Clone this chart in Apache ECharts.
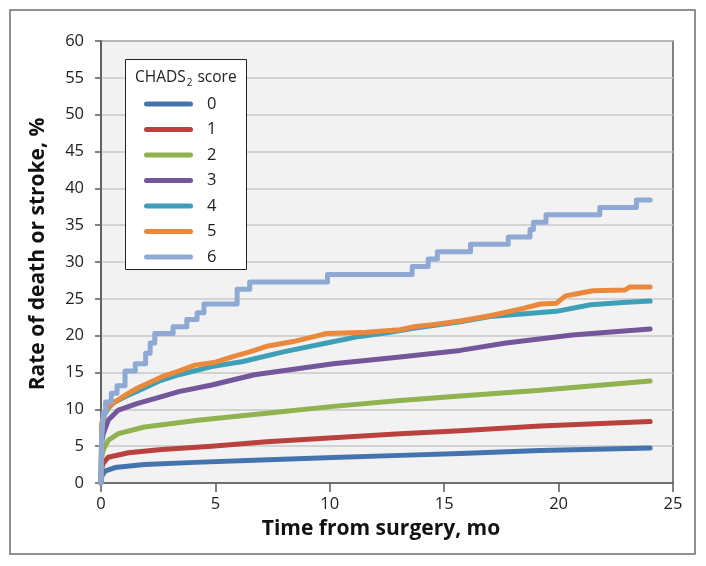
<!DOCTYPE html>
<html>
<head>
<meta charset="utf-8">
<script src="https://cdn.jsdelivr.net/npm/echarts@6/dist/echarts.min.js"></script>
<style>
  html, body { margin: 0; padding: 0; background: #fff; }
  #main { width: 706px; height: 566px; }
</style>
</head>
<body>
<div id="main"></div>
<script>
// [time in months, rate %]
var score0 = [[0, 0], [0.03, 0.9], [0.17, 1.6], [0.61, 2.1], [1.9, 2.5], [4.1, 2.8], [6.7, 3.1], [10.15, 3.45], [13.07, 3.75], [15.7, 4.0], [19.2, 4.4], [24.0, 4.75]];
var score1 = [[0, 0], [0.03, 2.0], [0.1, 2.7], [0.32, 3.5], [1.2, 4.1], [2.65, 4.55], [4.84, 5.0], [7.24, 5.6], [10.15, 6.15], [13.07, 6.7], [15.7, 7.1], [19.2, 7.74], [24.0, 8.35]];
var score2 = [[0, 0], [0.03, 3.5], [0.1, 4.5], [0.32, 5.8], [0.76, 6.7], [1.9, 7.6], [4.33, 8.55], [7.24, 9.46], [10.15, 10.4], [13.07, 11.2], [15.7, 11.8], [19.2, 12.6], [24.0, 13.85]];
var score3 = [[0, 0], [0.03, 5.5], [0.1, 6.7], [0.32, 8.55], [0.76, 9.9], [1.6, 10.8], [2.5, 11.6], [3.4, 12.4], [4.84, 13.3], [6.7, 14.7], [10.15, 16.2], [13.07, 17.1], [15.7, 18.0], [17.7, 19.0], [20.6, 20.1], [24.0, 20.9]];
var score4 = [[0, 0], [0.03, 7.5], [0.15, 9.3], [0.32, 10.2], [0.6, 11.0], [1.05, 11.7], [1.9, 12.9], [2.6, 13.9], [3.4, 14.7], [4.84, 15.8], [6.2, 16.5], [7.97, 17.8], [9.86, 19.0], [11.3, 19.9], [12.5, 20.4], [13.65, 21.0], [15.7, 21.9], [17.0, 22.6], [19.9, 23.3], [21.4, 24.2], [22.8, 24.5], [24.0, 24.7]];
var score5 = [[0, 0], [0.03, 8.1], [0.15, 9.5], [0.32, 10.4], [0.76, 11.3], [1.1, 12.0], [1.6, 12.9], [2.1, 13.6], [2.65, 14.4], [3.4, 15.2], [4.1, 16.0], [5.0, 16.4], [5.8, 17.2], [6.5, 17.8], [7.3, 18.6], [8.4, 19.2], [9.35, 19.9], [9.86, 20.3], [11.6, 20.45], [13.07, 20.8], [13.65, 21.2], [14.5, 21.5], [15.7, 22.0], [17.0, 22.7], [18.46, 23.7], [19.2, 24.3], [19.9, 24.4], [20.3, 25.4], [20.8, 25.7], [21.5, 26.1], [22.9, 26.2], [23.1, 26.6], [24.0, 26.6]];
var score6 = [[0, 0], [0.03, 6.0], [0.1, 9.5], [0.2, 11.0], [0.45, 12.2], [0.7, 13.2], [1.05, 15.2], [1.5, 16.2], [1.95, 17.6], [2.15, 19.0], [2.35, 20.3], [3.15, 21.2], [3.75, 22.2], [4.2, 23.1], [4.5, 24.3], [5.95, 26.3], [6.5, 27.3], [9.9, 28.3], [13.6, 29.4], [14.3, 30.4], [14.7, 31.4], [16.15, 32.4], [17.8, 33.4], [18.75, 34.4], [18.9, 35.4], [19.45, 36.4], [21.8, 37.4], [23.4, 38.4], [24.0, 38.4]];

var scoreNames = ['0', '1', '2', '3', '4', '5', '6'];
var scoreData = [score0, score1, score2, score3, score4, score5, score6];
var colors = ['#4473ae', '#b9423f', '#90b24f', '#74569b', '#3f9fb7', '#ea893c', '#8eaad4'];

var font = '"Open Sans", "Noto Sans", sans-serif';
var axisColor = '#595959';

var chart = echarts.init(document.getElementById('main'), null, { renderer: 'canvas' });

var series = scoreData.map(function (d, i) {
  return {
    name: scoreNames[i],
    type: 'line',
    data: d,
    step: i === 6 ? 'end' : false,
    showSymbol: false,
    symbol: 'none',
    lineStyle: { width: 5, color: colors[i], cap: 'round', join: 'round' },
    itemStyle: { color: colors[i] },
    emphasis: { disabled: true },
    animation: false
  };
});

var option = {
  animation: false,
  color: colors,
  title: {
    text: '{a|CHADS}{sub|2}{a| score}',
    left: 135,
    top: 68,
    padding: 0,
    z: 10,
    textStyle: {
      fontWeight: 'normal',
      rich: {
        a: { fontFamily: font, fontSize: 15.5, fontWeight: 'normal', color: '#222', lineHeight: 20 },
        sub: { fontFamily: font, fontSize: 10, fontWeight: 'normal', color: '#222', lineHeight: 10, padding: [10, 1, 0, 1] }
      }
    }
  },
  legend: {
    data: scoreNames,
    orient: 'vertical',
    left: 144,
    top: 94,
    padding: 0,
    z: 10,
    itemWidth: 49,
    itemHeight: 5.5,
    itemGap: 5.5,
    icon: 'path://M2.5,0 H46.5 A2.5,2.5 0 0 1 46.5,5 H2.5 A2.5,2.5 0 0 1 2.5,0 Z',
    selectedMode: false,
    textStyle: { fontFamily: font, fontSize: 16.5, color: '#222', lineHeight: 20, padding: [0, 0, 0, 9] }
  },
  grid: {
    left: 101,
    right: 33,
    top: 41,
    bottom: 83,
    containLabel: false,
    outerBoundsMode: 'none',
    show: true,
    backgroundColor: '#f2f2f2',
    borderColor: axisColor,
    borderWidth: 1.5
  },
  xAxis: {
    type: 'value',
    min: 0,
    max: 25,
    interval: 5,
    name: 'Time from surgery, mo',
    nameLocation: 'middle',
    nameGap: 36,
    nameTextStyle: { fontFamily: font, fontSize: 21, fontWeight: 'bold', color: '#111', padding: [0, 12, 0, 0] },
    axisLine: { show: true, lineStyle: { color: axisColor, width: 1.5 } },
    axisTick: { show: true, length: 9, lineStyle: { color: axisColor, width: 1.5 } },
    axisLabel: { fontFamily: font, fontSize: 16.5, color: '#222', margin: 13 },
    splitLine: { show: false }
  },
  yAxis: {
    type: 'value',
    min: 0,
    max: 60,
    interval: 5,
    name: 'Rate of death or stroke, %',
    nameLocation: 'middle',
    nameGap: 52,
    nameTextStyle: { fontFamily: font, fontSize: 21, fontWeight: 'bold', color: '#111', padding: [0, 0, 0, 16] },
    axisLine: { show: true, lineStyle: { color: axisColor, width: 1.5 } },
    axisTick: { show: true, length: 6, lineStyle: { color: axisColor, width: 1.5 } },
    axisLabel: { fontFamily: font, fontSize: 16.5, color: '#222', margin: 17 },
    splitLine: { show: true, lineStyle: { color: '#c8c8c8', width: 1.5 } }
  },
  graphic: [
    {
      type: 'rect',
      shape: { x: 10, y: 10, width: 685, height: 544 },
      style: { fill: 'none', stroke: '#6e6e6e', lineWidth: 1.5 },
      z: 0
    },
    {
      type: 'rect',
      shape: { x: 125.5, y: 59.5, width: 121, height: 210 },
      style: { fill: '#fff', stroke: '#222', lineWidth: 1 },
      z: 5
    }
  ],
  series: series
};

chart.setOption(option);
</script>
</body>
</html>
